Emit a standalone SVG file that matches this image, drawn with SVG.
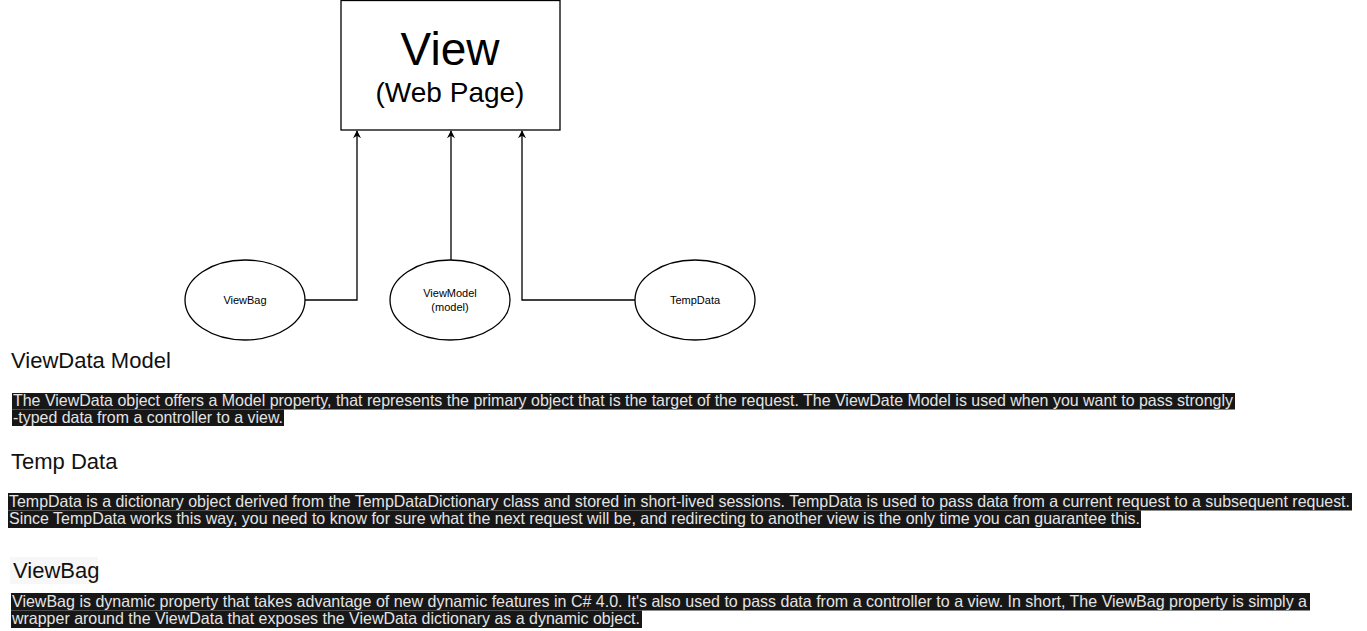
<svg xmlns="http://www.w3.org/2000/svg" width="1367" height="631" viewBox="0 0 1367 631">
<style>
.shape{fill:#fff;stroke:#000;stroke-width:1.3}
.lbl{font-family:"Liberation Sans",Arial,sans-serif;fill:#000;text-anchor:middle}
.small{font-size:11px}
.head{font-family:"Liberation Sans",Arial,sans-serif;font-size:22px;fill:#111}
.para{font-family:"Liberation Sans",Arial,sans-serif;font-size:16.5px;fill:#e4e4e4}
.band{fill:#171717}
.conn{fill:none;stroke:#000;stroke-width:1.3}
</style>
<defs>
<marker id="arr" viewBox="0 0 10 10" refX="9" refY="5" markerWidth="8" markerHeight="8" orient="auto" markerUnits="userSpaceOnUse">
<path d="M0,0 L10,5 L0,10 L3,5 Z" fill="#000"/>
</marker>
</defs>
<rect width="1367" height="631" fill="#fff"/>
<g id="view">
<rect class="shape" x="341" y="0.5" width="219" height="129.5"/>
<text class="lbl" x="450" y="65" font-size="46">View</text>
<text class="lbl" x="450" y="102" font-size="28">(Web Page)</text>
</g>
<g id="viewbag">
<ellipse class="shape" cx="245" cy="300" rx="60" ry="40"/>
<text class="lbl small" x="245" y="304">ViewBag</text>
</g>
<g id="viewmodel">
<ellipse class="shape" cx="450" cy="300" rx="60" ry="40"/>
<text class="lbl small" x="450" y="297">ViewModel</text>
<text class="lbl small" x="450" y="311">(model)</text>
</g>
<g id="tempdata">
<ellipse class="shape" cx="695" cy="300" rx="60" ry="40"/>
<text class="lbl small" x="695" y="304">TempData</text>
</g>
<g id="connectors">
<path class="conn" d="M305,300 H357 V131" marker-end="url(#arr)"/>
<path class="conn" d="M451,260 V131" marker-end="url(#arr)"/>
<path class="conn" d="M635,300 H522 V131" marker-end="url(#arr)"/>
</g>
<g id="viewdata-section">
<text class="head" x="11" y="368">ViewData Model</text>
<rect class="band" x="12" y="393" width="1223" height="16.5"/>
<rect class="band" x="12" y="409.5" width="272" height="16.5"/>
<text class="para" x="13" y="406" textLength="1220" lengthAdjust="spacingAndGlyphs">The ViewData object offers a Model property, that represents the primary object that is the target of the request. The ViewDate Model is used when you want to pass strongly</text>
<text class="para" x="13" y="423" textLength="270" lengthAdjust="spacingAndGlyphs">-typed data from a controller to a view.</text>
</g>
<g id="tempdata-section">
<text class="head" x="11" y="469">Temp Data</text>
<rect class="band" x="8" y="493" width="1344" height="17.5"/>
<rect class="band" x="8" y="510.5" width="1133" height="17.5"/>
<text class="para" x="9" y="506.5" textLength="1341" lengthAdjust="spacingAndGlyphs">TempData is a dictionary object derived from the TempDataDictionary class and stored in short-lived sessions. TempData is used to pass data from a current request to a subsequent request.</text>
<text class="para" x="9" y="524" textLength="1131" lengthAdjust="spacingAndGlyphs">Since TempData works this way, you need to know for sure what the next request will be, and redirecting to another view is the only time you can guarantee this.</text>
</g>
<g id="viewbag-section">
<rect x="10" y="557" width="88" height="27" fill="#f7f7f7"/>
<text class="head" x="13" y="578">ViewBag</text>
<rect class="band" x="11" y="593" width="1299" height="17.5"/>
<rect class="band" x="11" y="610.5" width="631" height="17.5"/>
<text class="para" x="12" y="606.5" textLength="1295" lengthAdjust="spacingAndGlyphs">ViewBag is dynamic property that takes advantage of new dynamic features in C# 4.0. It's also used to pass data from a controller to a view. In short, The ViewBag property is simply a</text>
<text class="para" x="12" y="624" textLength="628" lengthAdjust="spacingAndGlyphs">wrapper around the ViewData that exposes the ViewData dictionary as a dynamic object.</text>
</g>
</svg>
